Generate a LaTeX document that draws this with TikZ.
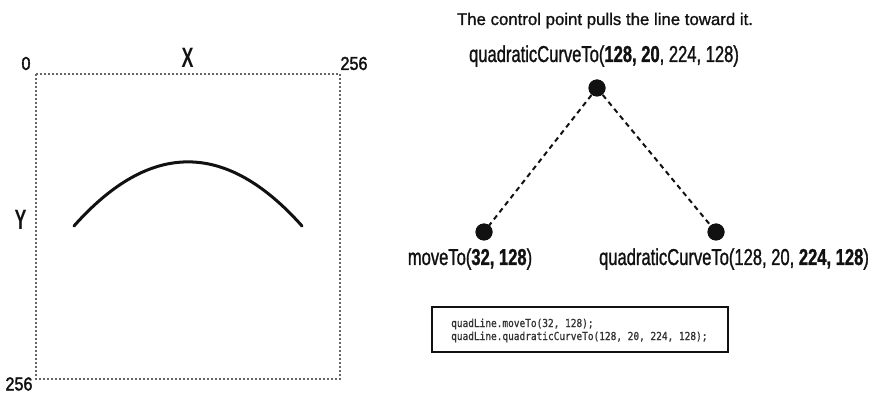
\documentclass[tikz,border=0pt]{standalone}
\usepackage{fontspec}
\setmainfont{Liberation Sans}
\newfontfamily\titlefont[FakeBold=1.2]{Liberation Sans}
\newfontfamily\callfont[FakeStretch=0.72,FakeBold=1.2]{Liberation Sans}
\newfontfamily\numfont[FakeStretch=0.87,FakeBold=2]{Liberation Sans}
\newfontfamily\axisfont[FakeStretch=0.64,UprightFont=*-Bold]{Liberation Sans}
\newfontfamily\codefont[FakeStretch=0.86,FakeBold=1]{DejaVu Sans Mono}
\definecolor{ink}{HTML}{111111}
\definecolor{codeink}{HTML}{333333}
\definecolor{gridgrey}{HTML}{666666}
\tikzset{
  axislabel/.style={font=\axisfont\fontsize{28}{28}\selectfont, text=ink, inner sep=0pt},
  numlabel/.style={font=\numfont\fontsize{18.6}{19}\selectfont, text=ink, inner sep=0pt},
  calllabel/.style={font=\callfont\fontsize{23}{23}\selectfont, text=ink, inner sep=0pt, anchor=base},
  titlelabel/.style={font=\titlefont\fontsize{16.8}{17}\selectfont, text=ink, inner sep=0pt, anchor=base},
  pointdot/.style={circle, fill=ink, minimum size=17pt, inner sep=0pt},
  guideline/.style={dash pattern=on 5pt off 4pt, line width=2pt, draw=ink},
  frameline/.style={draw=gridgrey, line width=1.1pt, dash pattern=on 2pt off 2pt},
  curveline/.style={draw=ink, line width=3pt, line cap=round},
  codebox/.style={draw=ink, line width=2pt},
  codeline/.style={font=\codefont\fontsize{11}{11}\selectfont, text=codeink, inner sep=0pt, anchor=base west}
}
\begin{document}
\begin{tikzpicture}[x=1pt,y=-1pt]
\useasboundingbox (0,0) rectangle (875,395);

% canvas frame, 256 x 256 units
\coordinate (frameTL) at (36,74);
\coordinate (frameBR) at (340,379);
\draw[frameline] (frameTL) rectangle (frameBR);

\node[numlabel] (zeroLabel) at (26,63.5) {0};
\node[numlabel] (xMaxLabel) at (354,63.5) {256};
\node[axislabel] (xLabel) at (187.5,57.5) {X};
\node[axislabel] (yLabel) at (20.5,220) {Y};
\node[numlabel] (yMaxLabel) at (19,384) {256};

% the quadratic curve (32,128) -> ctrl (128,20) -> (224,128), as a cubic
\coordinate (curveStart) at (74,226);
\coordinate (curveC1) at (150,140.5);
\coordinate (curveC2) at (226,140.5);
\coordinate (curveEnd) at (302,226);
\draw[curveline] (curveStart) .. controls (curveC1) and (curveC2) .. (curveEnd);

% explanation on the right
\node[titlelabel] (title) at (605,25) {The control point pulls the line toward it.};
\node[calllabel] (ctrlLabel) at (604,62) {quadraticCurveTo(\textbf{128, 20}, 224, 128)};

\node[pointdot] (ctrlDot) at (597,88) {};
\node[pointdot] (startDot) at (484,232) {};
\node[pointdot] (endDot) at (716,232) {};
\draw[guideline] (ctrlDot.center) -- (startDot.center);
\draw[guideline] (ctrlDot.center) -- (endDot.center);
\node[pointdot] at (ctrlDot) {};
\node[pointdot] at (startDot) {};
\node[pointdot] at (endDot) {};

\node[calllabel] (startLabel) at (470,265) {moveTo(\textbf{32, 128})};
\node[calllabel] (endLabel) at (734,265) {quadraticCurveTo(128, 20, \textbf{224, 128})};

% code listing
\coordinate (codeTL) at (432,307);
\coordinate (codeBR) at (728,352);
\draw[codebox] (codeTL) rectangle (codeBR);
\node[codeline] (code1) at (451,327) {quadLine.moveTo(32, 128);};
\node[codeline] (code2) at (451,340) {quadLine.quadraticCurveTo(128, 20, 224, 128);};
\end{tikzpicture}
\end{document}
